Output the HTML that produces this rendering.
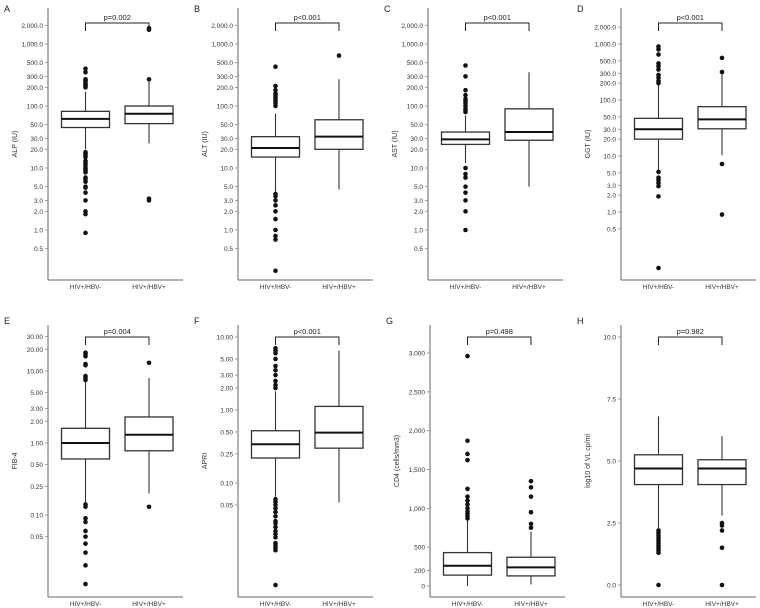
<!DOCTYPE html>
<html><head><meta charset="utf-8"><style>
body{margin:0;background:#fff}
svg{display:block;font-family:"Liberation Sans",sans-serif}
</style></head><body>
<svg id="fig" width="760" height="608" viewBox="0 0 760 608"></svg>
<script>
const categories=["HIV+/HBV-","HIV+/HBV+"];
const panelLetters=["A","B","C","D","E","F","G","H"];
const yTitles=["ALP (IU)","ALT (IU)","AST (IU)","GGT (IU)","FIB-4","APRI","CD4 (cells/mm3)","log10 of VL cp/ml"];
const pValues=["p=0.002","p<0.001","p<0.001","p<0.001","p=0.004","p<0.001","p=0.498","p=0.982"];
const ticksLiver=[2000,1000,500,300,200,100,50,30,20,10,5,3,2,1,0.5];
const tickLabelsLiver=["2,000.0","1,000.0","500.0","300.0","200.0","100.0","50.0","30.0","20.0","10.0","5.0","3.0","2.0","1.0","0.5"];
const ticksFib=[30,20,10,5,3,2,1,0.5,0.25,0.1,0.05];
const tickLabelsFib=["30.00","20.00","10.00","5.00","3.00","2.00","1.00","0.50","0.25","0.10","0.05"];
const ticksApri=[10,5,3,2,1,0.5,0.25,0.1,0.05];
const tickLabelsApri=["10.00","5.00","3.00","2.00","1.00","0.50","0.25","0.10","0.05"];
const ticksCd4=[3000,2500,2000,1500,1000,500,200,0];
const tickLabelsCd4=["3,000","2,500","2,000","1,500","1,000","500","200","0"];
const ticksVl=[10,7.5,5,2.5,0];
const tickLabelsVl=["10.0","7.5","5.0","2.5","0.0"];
// box stats per panel: [low whisker, q1, median, q3, high whisker] for each group
const boxesALP=[[20,45,62,82,170],[25,52,75,100,260]];
const boxesALT=[[4,15,21,32,75],[4.5,20,32,60,270]];
const boxesAST=[[12,24,29,38,70],[5,28,38,90,350]];
const boxesGGT=[[5.4,20,30,47,195],[10.3,30.6,45,76,316]];
const boxesFIB=[[0.15,0.6,1.0,1.6,7],[0.2,0.78,1.3,2.3,8]];
const boxesAPRI=[[0.065,0.22,0.34,0.52,1.8],[0.054,0.3,0.49,1.12,6.5]];
const boxesCD4=[[0,140,260,430,850],[20,130,240,370,700]];
const boxesVL=[[2.3,4.05,4.7,5.25,6.8],[2.8,4.05,4.7,5.05,6.0]];
const outliersALP=[[200,210,220,230,250,260,270,350,400,18,17,16,15,13,12,11,10,9.5,9,8.5,7,6.5,6,5,4.8,4,3,2,1.8,0.9],[1800,1700,270,3.2,3.0]];
const outliersALT=[[100,110,120,130,140,150,160,180,210,430,3.8,3.5,3,2.5,2,1.5,1,0.8,0.7,0.22],[650]];
const outliersAST=[[80,85,90,100,110,120,130,150,180,300,450,10,8,7,5,4,3,2,1],[]];
const outliersGGT=[[200,220,250,280,350,400,450,650,800,900,5.2,4.1,3.7,3.3,2.9,1.9,0.1],[316,565,7.2,0.9]];
const outliersFIB=[[7.5,8,8.5,12,12.5,16,17,18,0.14,0.13,0.09,0.08,0.06,0.05,0.04,0.03,0.02,0.011],[13,0.13]];
const outliersAPRI=[[2,2.2,2.5,3,3.5,4,5,6,6.5,7,0.06,0.055,0.05,0.045,0.04,0.035,0.03,0.028,0.025,0.022,0.02,0.018,0.015,0.014,0.013,0.012,0.004],[]];
const outliersCD4=[[870,900,930,960,1000,1050,1100,1150,1250,1620,1700,1870,2960],[750,800,950,1150,1270,1350]];
const outliersVL=[[2.2,2.1,2.0,1.9,1.8,1.7,1.6,1.5,1.4,1.3,0],[2.5,2.4,2.2,1.5,0]];

const NS="http://www.w3.org/2000/svg";
const svg=document.getElementById("fig");
function mk(tag,attrs,parent){const e=document.createElementNS(NS,tag);for(const k in attrs)e.setAttribute(k,attrs[k]);(parent||svg).appendChild(e);return e;}
function logScale(y1,dec){return v=>y1-Math.log10(v)*dec;}
function linScale(y0,per){return v=>y0-v*per;}
const axX=[48,238,428,621,48,238,430,621];
const panels=[
 {ticks:ticksLiver,labels:tickLabelsLiver,boxes:boxesALP,out:outliersALP,y:logScale(230,62)},
 {ticks:ticksLiver,labels:tickLabelsLiver,boxes:boxesALT,out:outliersALT,y:logScale(230,62)},
 {ticks:ticksLiver,labels:tickLabelsLiver,boxes:boxesAST,out:outliersAST,y:logScale(230,62)},
 {ticks:ticksLiver,labels:tickLabelsLiver,boxes:boxesGGT,out:outliersGGT,y:logScale(212,56)},
 {ticks:ticksFib,labels:tickLabelsFib,boxes:boxesFIB,out:outliersFIB,y:logScale(443,72)},
 {ticks:ticksApri,labels:tickLabelsApri,boxes:boxesAPRI,out:outliersAPRI,y:logScale(410,73)},
 {ticks:ticksCd4,labels:tickLabelsCd4,boxes:boxesCD4,out:outliersCD4,y:linScale(586,233/3000)},
 {ticks:ticksVl,labels:tickLabelsVl,boxes:boxesVL,out:outliersVL,y:linScale(585,248/10)}
];
panels.forEach((p,i)=>{
  const top=i<4;
  const ax=axX[i], base=top?280:597, axTop=top?8:325, brY=top?23:337;
  const g=mk("g",{});
  
  
  const L=mk("text",{x:ax-44,y:top?12:324,"font-size":9,fill:"#222"},g);L.textContent=panelLetters[i];
  
  
  const yl=mk("line",{x1:ax,y1:axTop,x2:ax,y2:base,stroke:"#666","stroke-width":1},g);
  
  
  const xl=mk("line",{x1:ax,y1:base,x2:ax+135,y2:base,stroke:"#666","stroke-width":1},g);
  
  
  p.ticks.forEach((t,k)=>{
    const y=p.y(t);
    mk("line",{x1:ax-3,y1:y,x2:ax,y2:y,stroke:"#888","stroke-width":0.8},g);
    const tx=mk("text",{x:ax-5,y:y+2.5,"font-size":6.5,"text-anchor":"end",fill:"#333"},g);
    tx.textContent=p.labels[k];
    
    
  });
  const yt=mk("text",{x:0,y:0,"font-size":7,"text-anchor":"middle",fill:"#333",transform:`translate(${ax-31},${(axTop+base)/2}) rotate(-90)`},g);
  yt.textContent=yTitles[i];
  
  
  const cx=[ax+37.5,ax+101];
  categories.forEach((c,j)=>{
    const t=mk("text",{x:cx[j],y:base+9,"font-size":6.5,"text-anchor":"middle",fill:"#333"},g);
    t.textContent=c;
    
    
    const b=p.boxes[j];
    const bg=mk("g",{},g);
    
    
    mk("line",{x1:cx[j],y1:p.y(b[0]),x2:cx[j],y2:p.y(b[4]),stroke:"#333","stroke-width":1.1},bg);
    mk("rect",{x:cx[j]-24,y:p.y(b[3]),width:48,height:p.y(b[1])-p.y(b[3]),fill:"#fff",stroke:"#333","stroke-width":1.3},bg);
    mk("line",{x1:cx[j]-24,y1:p.y(b[2]),x2:cx[j]+24,y2:p.y(b[2]),stroke:"#111","stroke-width":2},bg);
    p.out[j].forEach(v=>{
      const c2=mk("circle",{cx:cx[j],cy:p.y(v),r:2.3,fill:"#111"},bg);
      
      
    });
  });
  const br=mk("path",{d:`M${cx[0]},${brY+8}V${brY}H${cx[1]}V${brY+8}`,fill:"none",stroke:"#222","stroke-width":1},g);
  
  
  const pv=mk("text",{x:(cx[0]+cx[1])/2,y:brY-3,"font-size":7.5,"text-anchor":"middle",fill:"#222"},g);
  pv.textContent=pValues[i];
  
  
});
</script>
</body></html>
